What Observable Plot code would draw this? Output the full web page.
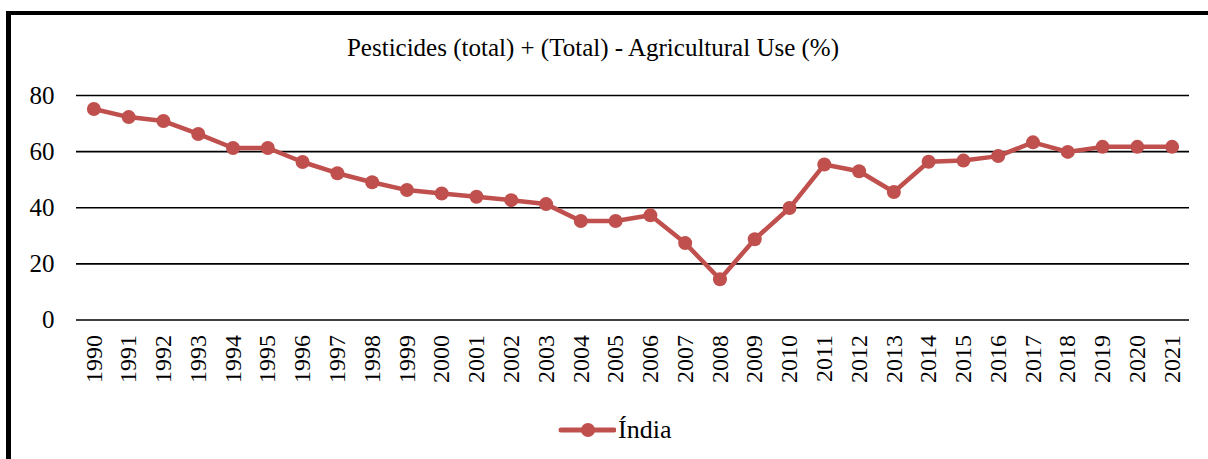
<!DOCTYPE html>
<html>
<head>
<meta charset="utf-8">
<script src="https://cdn.jsdelivr.net/npm/d3@7"></script>
<script src="https://cdn.jsdelivr.net/npm/@observablehq/plot@0.6"></script>
<style>
  html, body { margin: 0; padding: 0; background: #fff; }
  #wrap, #wrap * { font-family: "Liberation Serif", "Tinos", "DejaVu Serif", serif; }
  #wrap { position: relative; width: 1208px; height: 459px; overflow: hidden; color: #000; }
  #border { position: absolute; left: 6px; top: 11px; right: -10px; bottom: -10px; border-left: 5px solid #000; border-top: 4px solid #000; }
  #title { position: absolute; left: 0; top: 35px; width: 1186px; text-align: center; font-size: 25px; line-height: 1; white-space: nowrap; }
  #chart { position: absolute; left: 0; top: 0; }
  #legend { position: absolute; left: 558px; top: 417px; font-size: 26px; line-height: 1; display: flex; align-items: center; }
  #legend svg { margin-right: 2px; }
</style>
</head>
<body>
<div id="wrap">
  <div id="border"></div>
  <div id="chart"></div>
  <div id="title"></div>
  <div id="legend"></div>
</div>
<script>
const titleText = "Pesticides (total) + (Total) - Agricultural Use (%)";
const seriesName = "Índia";
const years = ["1990","1991","1992","1993","1994","1995","1996","1997","1998","1999","2000","2001","2002","2003","2004","2005","2006","2007","2008","2009","2010","2011","2012","2013","2014","2015","2016","2017","2018","2019","2020","2021"];
const values = [75.2,72.3,70.9,66.3,61.3,61.3,56.3,52.3,49.1,46.3,45.1,43.9,42.7,41.3,35.3,35.3,37.3,27.4,14.5,28.8,39.9,55.4,53.0,45.6,56.4,56.8,58.4,63.3,59.9,61.7,61.7,61.7];
const yTicks = [0, 20, 40, 60, 80];
const color = "#C0504D";
const serif = "'Liberation Serif', 'Tinos', 'DejaVu Serif', serif";

const data = years.map((y, i) => ({year: y, value: values[i]}));

const chart = Plot.plot({
  width: 1208,
  height: 459,
  marginLeft: 76,
  marginRight: 19,
  marginTop: 95,
  marginBottom: 139.5,
  style: {fontFamily: serif, fontSize: "24px", color: "#000", background: "transparent", overflow: "visible"},
  x: {type: "point", domain: years, padding: 0.5, round: false, label: null, tickSize: 0, tickPadding: 15, tickRotate: -90},
  y: {domain: [0, 80], ticks: yTicks, label: null, tickSize: 0, tickPadding: 22},
  marks: [
    Plot.ruleY(yTicks, {stroke: "#000", strokeWidth: 1.6}),
    Plot.line(data, {x: "year", y: "value", stroke: color, strokeWidth: 4.5, strokeLinejoin: "round"}),
    Plot.dot(data, {x: "year", y: "value", fill: color, r: 7})
  ]
});
chart.querySelectorAll("text").forEach(t => t.setAttribute("fill", "#000"));
chart.querySelectorAll("g[aria-label='y-axis tick label'] text").forEach(t => t.setAttribute("font-size", "25"));
document.getElementById("chart").appendChild(chart);
document.getElementById("title").textContent = titleText;

const leg = document.getElementById("legend");
leg.innerHTML = `<svg width="58" height="20"><line x1="3" y1="10" x2="56" y2="10" stroke="${color}" stroke-width="5" stroke-linecap="round"/><circle cx="30" cy="10" r="7" fill="${color}"/></svg><span></span>`;
leg.querySelector("span").textContent = seriesName;
</script>
</body>
</html>
